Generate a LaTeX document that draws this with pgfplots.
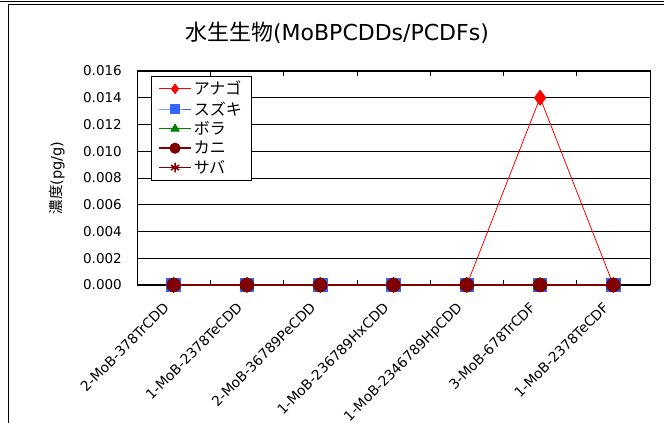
\documentclass[border=0pt]{standalone}
\usepackage{fontspec}
\setmainfont{DejaVu Sans}
\newfontfamily\jp{Noto Sans CJK JP}
\usepackage{pgfplots}
\pgfplotsset{compat=1.18}
\definecolor{anago}{RGB}{255,0,0}
\definecolor{suzuki}{RGB}{51,102,255}
\definecolor{bora}{RGB}{0,128,0}
\definecolor{kani}{RGB}{128,0,0}
\definecolor{saba}{RGB}{128,0,0}
\begin{document}
\begin{tikzpicture}[x=1pt,y=1pt]
\useasboundingbox (0,0) rectangle (664,423);
\fill[white] (0,0) rectangle (664,423);
\draw[line width=0.8pt] (0,421.8) -- (664,421.8);
\draw[line width=0.8pt] (8,418.8) -- (664,418.8);
\draw[line width=0.8pt] (8,418.8) -- (8,0);
\node[font=\fontsize{22}{26}\selectfont] at (337,390) {{\jp 水生生物}(MoBPCDDs/PCDFs)};
\begin{axis}[at={(137pt,138pt)}, anchor=south west, scale only axis,
  width=513pt, height=214pt,
  xmin=-0.5, xmax=6.5, ymin=0, ymax=0.016,
  ylabel={{\jp 濃度}(pg/g)},
  ylabel style={at={(axis description cs:0,0.5)}, anchor=center, yshift=80pt, font=\fontsize{14.5}{17}\selectfont},
  xtick={0,1,2,3,4,5,6},
  xticklabels={2-MoB-378TrCDD, 1-MoB-2378TeCDD, 2-MoB-36789PeCDD, 1-MoB-236789HxCDD, 1-MoB-2346789HpCDD, 3-MoB-678TrCDF, 1-MoB-2378TeCDF},
  minor xtick={0.5,1.5,2.5,3.5,4.5,5.5},
  ytick={0,0.002,0.004,0.006,0.008,0.010,0.012,0.014,0.016},
  scaled y ticks=false,
  /pgf/number format/fixed, /pgf/number format/fixed zerofill, /pgf/number format/precision=3,
  /pgf/number format/assume math mode=true,
  y tick label style={font=\fontsize{13.5}{16}\selectfont, inner sep=0pt, xshift=-15pt},
  x tick label style={font=\fontsize{13.8}{17}\selectfont, inner sep=0pt, text height=0.75em, text depth=0.25em, xshift=-5.5pt, yshift=-22pt, rotate=45, anchor=east},
  ymajorgrids, major grid style={black, line width=0.8pt},
  tick align=inside,
  major x tick style={draw=none}, ytick style={draw=none},
  minor tick length=5pt, minor x tick style={black, line width=0.6pt},
  axis line style={black, line width=1pt},
  clip=false,
  legend style={at={(axis description cs:0,1)}, anchor=north west, xshift=14pt, yshift=-5pt,
    draw=black, line width=0.6pt, font=\jp\fontsize{16}{17}\selectfont, cells={anchor=west},
    row sep=1pt, inner xsep=7pt, inner ysep=3pt},
  legend image code/.code={\draw[mark repeat=2, mark phase=2, mark size=4.8pt] plot coordinates {(0pt,0pt) (16pt,0pt) (32pt,0pt)};},
]
\addplot[color=anago, line width=0.8pt, mark=diamond*, mark size=7.5pt, mark options={fill=anago}] coordinates {(0,0) (1,0) (2,0) (3,0) (4,0) (5,0.014) (6,0)};
\addplot[color=suzuki, line width=0.8pt, mark=square*, mark size=6.8pt, mark options={fill=suzuki}] coordinates {(0,0) (1,0) (2,0) (3,0) (4,0) (5,0) (6,0)};
\addplot[color=bora, line width=0.8pt, mark=triangle*, mark size=7.5pt, mark options={fill=bora}] coordinates {(0,0) (1,0) (2,0) (3,0) (4,0) (5,0) (6,0)};
\addplot[color=kani, line width=1.5pt, mark=*, mark size=6.5pt, mark options={fill=kani}] coordinates {(0,0) (1,0) (2,0) (3,0) (4,0) (5,0) (6,0)};
\addplot[color=saba, line width=1.5pt, mark=asterisk, mark size=6pt] coordinates {(0,0) (1,0) (2,0) (3,0) (4,0) (5,0) (6,0)};
\legend{アナゴ, スズキ, ボラ, カニ, サバ}
\end{axis}
\end{tikzpicture}
\end{document}
